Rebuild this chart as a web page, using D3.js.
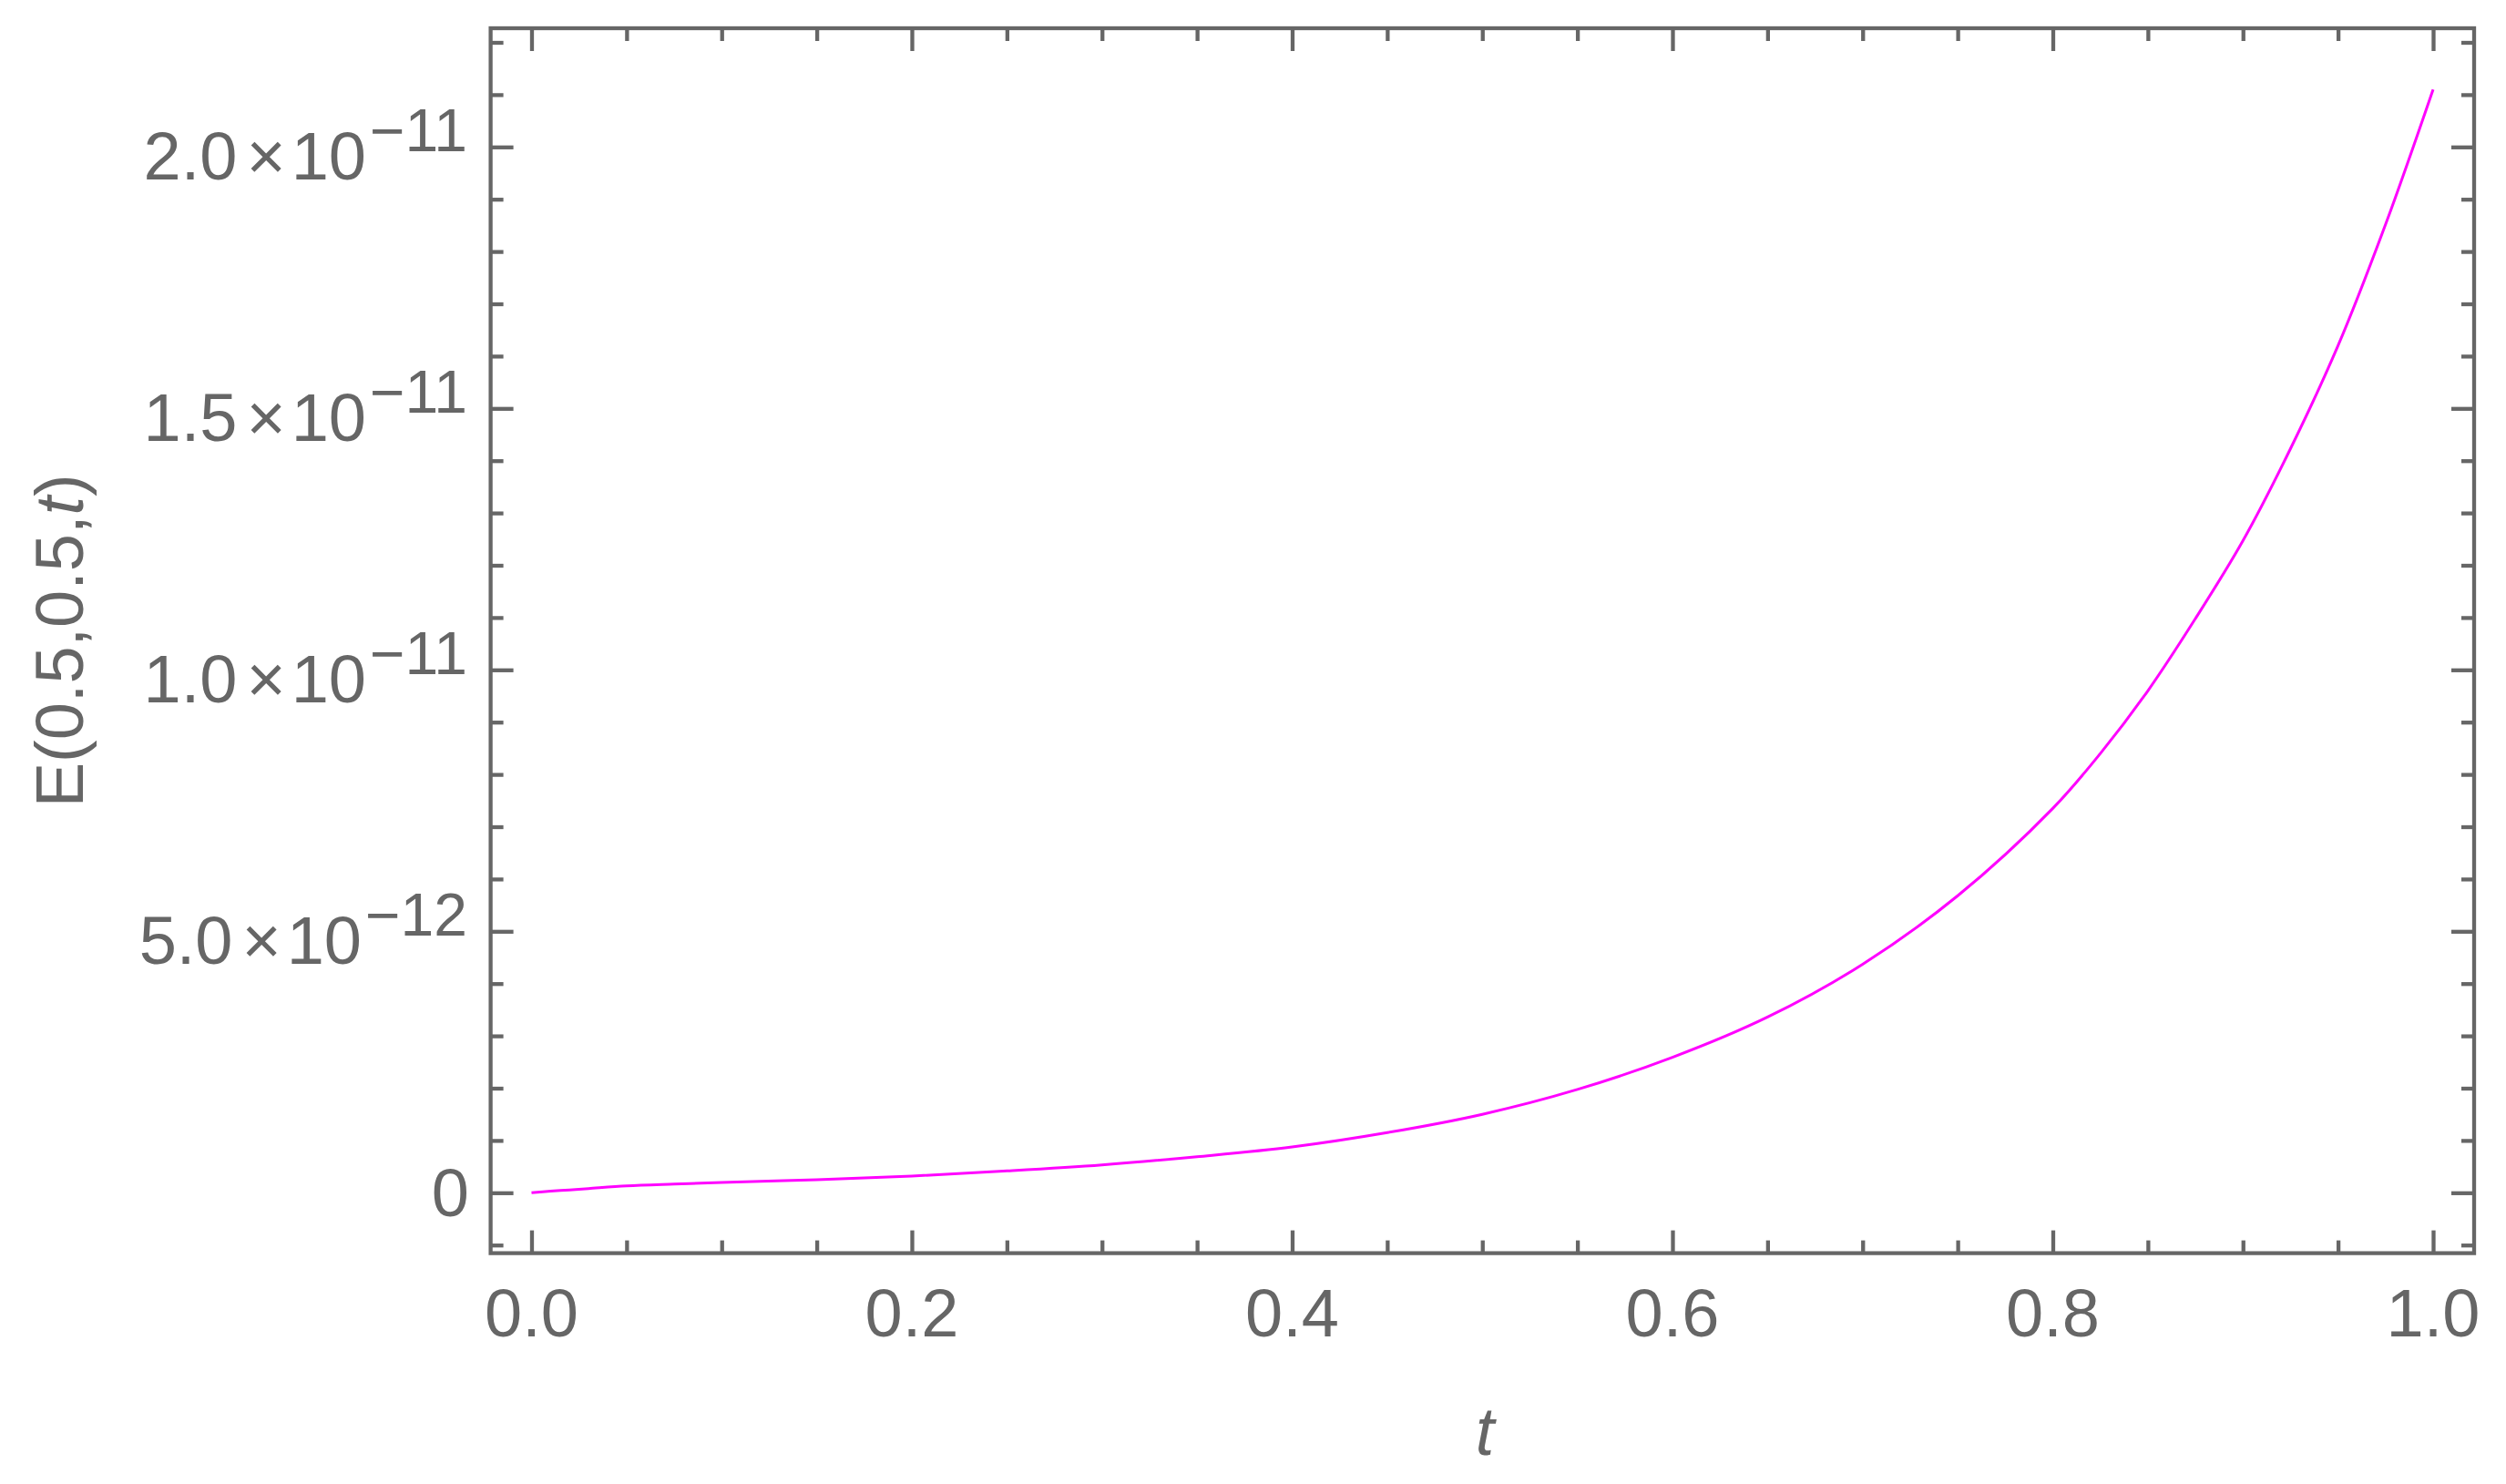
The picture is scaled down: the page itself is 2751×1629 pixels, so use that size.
<!DOCTYPE html>
<html>
<head>
<meta charset="utf-8">
<script src="https://cdn.jsdelivr.net/npm/d3@7"></script>
<style>
  html, body { margin: 0; padding: 0; background: #ffffff; }
  svg { display: block; }
  text { font-family: "Liberation Sans", Arial, sans-serif; fill: #666666; }
</style>
</head>
<body>
<script>
// ---- data ----
const tValues = [0, 0.01, 0.02, 0.03, 0.05, 0.075, 0.1, 0.15, 0.2, 0.25, 0.3, 0.35, 0.4, 0.45,
                 0.5, 0.55, 0.6, 0.65, 0.7, 0.75, 0.8, 0.825, 0.85, 0.875, 0.9, 0.925, 0.95, 0.975, 1.0];
const eValues = [0, 0.03e-12, 0.055e-12, 0.08e-12, 0.13e-12, 0.165e-12, 0.195e-12, 0.25e-12, 0.32e-12,
                 0.418e-12, 0.534e-12, 0.69e-12, 0.876e-12, 1.15e-12, 1.50e-12, 1.975e-12, 2.59e-12,
                 3.36e-12, 4.37e-12, 5.68e-12, 7.35e-12, 8.40e-12, 9.60e-12, 10.98e-12, 12.47e-12,
                 14.23e-12, 16.2e-12, 18.52e-12, 21.10e-12];

const xTickValues = [0, 0.2, 0.4, 0.6, 0.8, 1.0];
const xTickLabels = ["0.0", "0.2", "0.4", "0.6", "0.8", "1.0"];
const yTickValues = [0, 5e-12, 1e-11, 1.5e-11, 2e-11];
const yTickMantissas = ["0", "5.0", "1.0", "1.5", "2.0"];
const yTickExponents = ["", "\u221212", "\u221211", "\u221211", "\u221211"];
const xLabel = "t";
const yLabelPrefix = "E(0.5,0.5,";
const yLabelSuffix = ")";

// ---- layout ----
const W = 2751, H = 1629;
const plotLeft = 538.6, plotRight = 2716, plotTop = 31, plotBottom = 1375.6;
const gray = "#666666";

const x = d3.scaleLinear().domain([-0.0215, 1.02156]).range([plotLeft, plotRight]);
const y = d3.scaleLinear().domain([-1.155e-12, 22.27e-12]).range([plotBottom, plotTop]);

const svg = d3.select("body").append("svg").attr("width", W).attr("height", H);

// minor tick sets
const xMinor = d3.range(0, 21).map(i => i * 0.05).filter(v => !xTickValues.some(m => Math.abs(m - v) < 1e-9));
const yMinor = d3.range(-1, 23).map(i => i * 1e-12).filter(v => !yTickValues.some(m => Math.abs(m - v) < 1e-15));

function styleAxis(g) {
  g.select(".domain").remove();
  g.selectAll(".tick line").attr("stroke", gray).attr("stroke-width", 4.3);
  g.selectAll(".tick text").remove();
}

// bottom axis (ticks pointing inward)
svg.append("g").attr("transform", `translate(0,${plotBottom})`)
  .call(d3.axisTop(x).tickValues(xTickValues).tickSize(25).tickSizeOuter(0)).call(styleAxis);
svg.append("g").attr("transform", `translate(0,${plotBottom})`)
  .call(d3.axisTop(x).tickValues(xMinor).tickSize(14).tickSizeOuter(0)).call(styleAxis);
// top axis
svg.append("g").attr("transform", `translate(0,${plotTop})`)
  .call(d3.axisBottom(x).tickValues(xTickValues).tickSize(25).tickSizeOuter(0)).call(styleAxis);
svg.append("g").attr("transform", `translate(0,${plotTop})`)
  .call(d3.axisBottom(x).tickValues(xMinor).tickSize(14).tickSizeOuter(0)).call(styleAxis);
// left axis
svg.append("g").attr("transform", `translate(${plotLeft},0)`)
  .call(d3.axisRight(y).tickValues(yTickValues).tickSize(25).tickSizeOuter(0)).call(styleAxis);
svg.append("g").attr("transform", `translate(${plotLeft},0)`)
  .call(d3.axisRight(y).tickValues(yMinor).tickSize(14).tickSizeOuter(0)).call(styleAxis);
// right axis
svg.append("g").attr("transform", `translate(${plotRight},0)`)
  .call(d3.axisLeft(y).tickValues(yTickValues).tickSize(25).tickSizeOuter(0)).call(styleAxis);
svg.append("g").attr("transform", `translate(${plotRight},0)`)
  .call(d3.axisLeft(y).tickValues(yMinor).tickSize(14).tickSizeOuter(0)).call(styleAxis);

// frame
svg.append("rect")
  .attr("x", plotLeft).attr("y", plotTop)
  .attr("width", plotRight - plotLeft).attr("height", plotBottom - plotTop)
  .attr("fill", "none").attr("stroke", gray).attr("stroke-width", 4.3);

// curve
const pts = tValues.map((t, i) => [t, eValues[i]]);
svg.append("path")
  .datum(pts)
  .attr("fill", "none")
  .attr("stroke", "#ff00ff")
  .attr("stroke-width", 3)
  .attr("d", d3.line().x(d => x(d[0])).y(d => y(d[1])).curve(d3.curveCatmullRom.alpha(0.5)));

// x tick labels
svg.append("g").selectAll("text").data(xTickValues).join("text")
  .attr("x", d => x(d))
  .attr("y", 1466.7)
  .attr("text-anchor", "middle")
  .attr("font-size", 74)
  .text((d, i) => xTickLabels[i]);

// y tick labels
yTickValues.forEach((v, i) => {
  const t = svg.append("text")
    .attr("text-anchor", "end")
    .attr("font-size", 74);
  if (yTickExponents[i] === "") {
    t.attr("x", 515).attr("y", y(v) + 25.7).text(yTickMantissas[i]);
  } else {
    t.attr("x", 513).attr("y", y(v) + 36);
    t.append("tspan").text(yTickMantissas[i]);
    t.append("tspan").attr("dx", 10).text("\u00d7");
    t.append("tspan").attr("dx", 6).text("10");
    t.append("tspan").attr("dx", 4).attr("dy", -31.6).attr("font-size", 66).text(yTickExponents[i]);
  }
});

// axis labels
svg.append("text")
  .attr("x", 1630).attr("y", 1597)
  .attr("text-anchor", "middle")
  .attr("font-size", 74)
  .attr("font-style", "italic")
  .text(xLabel);

const yl = svg.append("text")
  .attr("transform", `translate(91,${(plotTop + plotBottom) / 2}) rotate(-90)`)
  .attr("text-anchor", "middle")
  .attr("font-size", 74);
yl.append("tspan").text(yLabelPrefix);
yl.append("tspan").attr("font-style", "italic").text(xLabel);
yl.append("tspan").text(yLabelSuffix);
</script>
</body>
</html>
